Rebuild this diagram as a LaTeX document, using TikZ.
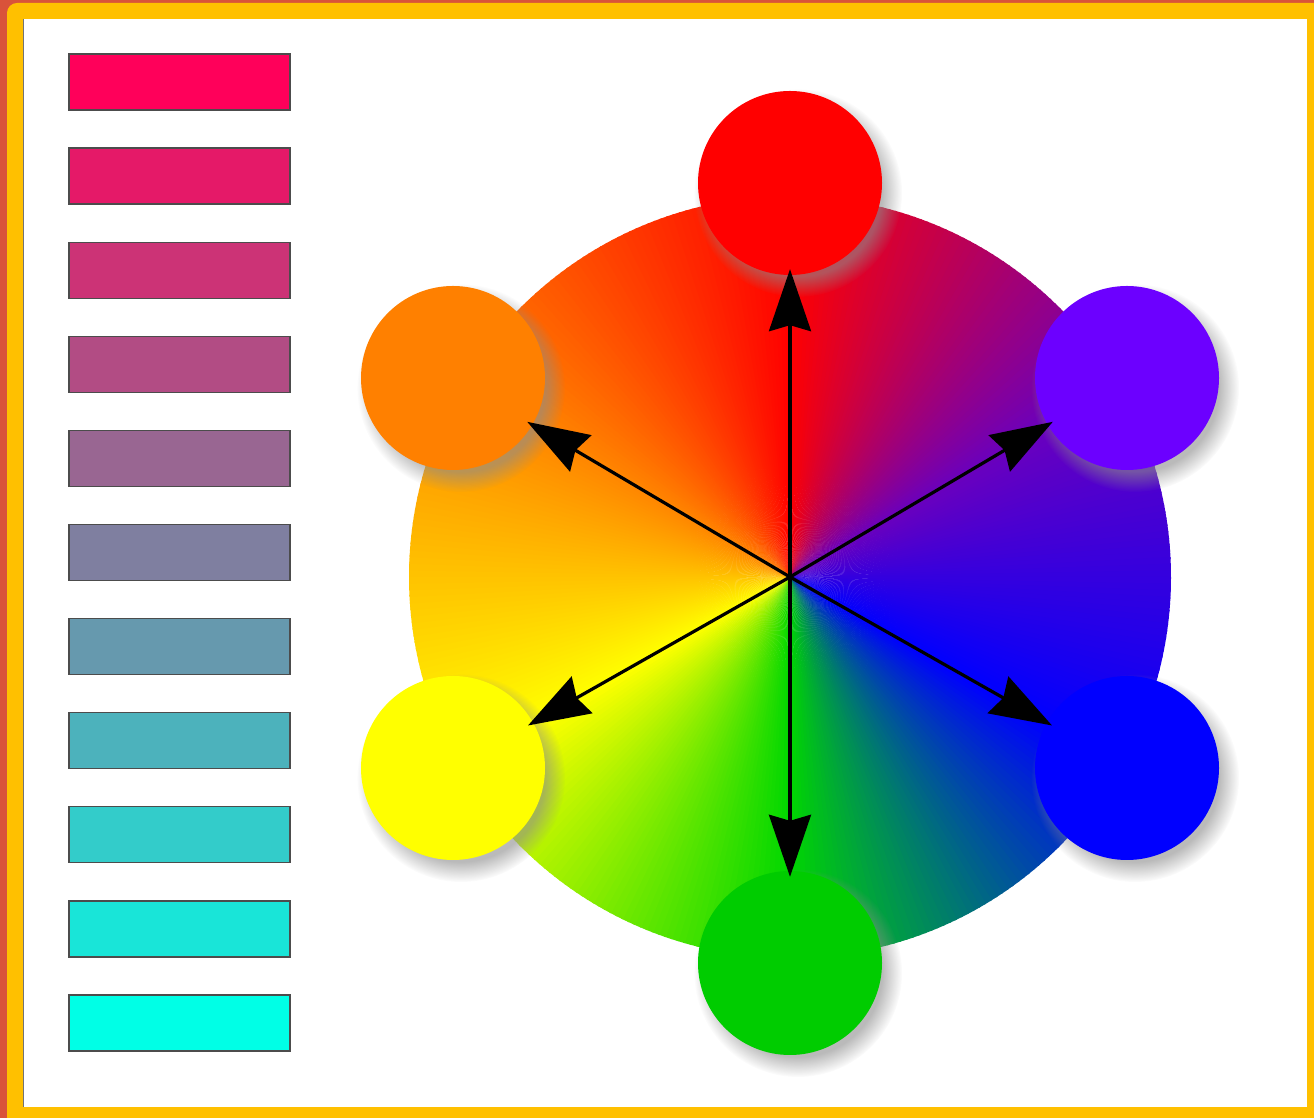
\documentclass[tikz,border=0pt]{standalone}
\usetikzlibrary{arrows.meta,fadings}
\definecolor{frameout}{RGB}{217,83,58}
\definecolor{frameyel}{RGB}{255,192,0}
\definecolor{wr}{RGB}{255,0,0}
\definecolor{wv}{RGB}{105,0,190}
\definecolor{wb}{RGB}{0,0,255}
\definecolor{wg}{RGB}{0,215,0}
\definecolor{wy}{RGB}{255,255,0}
\definecolor{wo}{RGB}{255,135,0}
\definecolor{cred}{RGB}{255,0,0}
\definecolor{cviolet}{RGB}{108,0,255}
\definecolor{cblue}{RGB}{0,0,255}
\definecolor{cgreen}{RGB}{0,204,0}
\definecolor{cyellow}{RGB}{255,255,0}
\definecolor{corange}{RGB}{255,128,0}
\tikzset{
  barbox/.style={draw=black!70, line width=1.3pt, minimum width=221pt, minimum height=56pt, inner sep=0pt},
  dot/.style={circle, minimum size=184pt, inner sep=0pt},
  shade/.style={fill=black!45, opacity=0.6, path fading=circle with fuzzy edge 20 percent},
  arr/.style={line width=3.2pt, -{Stealth[length=62pt, width=42pt, inset=6pt]}, shorten >=-6pt}
}
\begin{document}
\begin{tikzpicture}[x=1pt,y=1pt]
\useasboundingbox (0,0) rectangle (1314,1118);
% frame
\fill[frameout] (0,0) rectangle (1314,1118);
\fill[frameyel, rounded corners=10pt] (7,-20) rectangle (1340,1115);
\fill[white] (23,11) rectangle (1307,1099);
\draw[black!55, line width=1.5pt] (23.5,11) -- (23.5,1099);
% bars
\foreach \i in {0,...,10} {
  \pgfmathtruncatemacro\rr{255-25.5*\i}
  \pgfmathtruncatemacro\gg{25.5*\i}
  \pgfmathtruncatemacro\bb{90+14*\i}
  \definecolor{rc}{RGB}{\rr,\gg,\bb}
  \node[barbox, fill=rc] (bar\i) at (179.5, {1036-94.1*\i}) {};
}
% colour wheel
\coordinate (C) at (790,541);
\foreach \s/\ca/\cb in {90/wr/wv, 30/wv/wb, -30/wb/wg, -90/wg/wy, -150/wy/wo, -210/wo/wr} {
  \foreach \i in {0,...,59} {
    \pgfmathsetmacro\p{100-(\i+0.5)*100/60}
    \fill[\ca!\p!\cb] (C) -- ++({\s-\i}:381pt) arc[start angle={\s-\i}, end angle={\s-\i-1.3}, radius=381pt] -- cycle;
  }
}
% shadows
\foreach \x/\y in {790/935, 1127/740, 1127/350, 790/155, 453/350, 453/740} {
  \fill[shade] (\x+8,\y-10) circle (104pt);
}
% circles
\node[dot, fill=cred] (red) at (790,935) {};
\node[dot, fill=cviolet] (violet) at (1127,740) {};
\node[dot, fill=cblue] (blue) at (1127,350) {};
\node[dot, fill=cgreen] (green) at (790,155) {};
\node[dot, fill=cyellow] (yellow) at (453,350) {};
\node[dot, fill=corange] (orange) at (453,740) {};
% arrows
\foreach \t in {red,violet,blue,green,yellow,orange} {
  \draw[arr] (C) -- (\t);
}
\end{tikzpicture}
\end{document}
